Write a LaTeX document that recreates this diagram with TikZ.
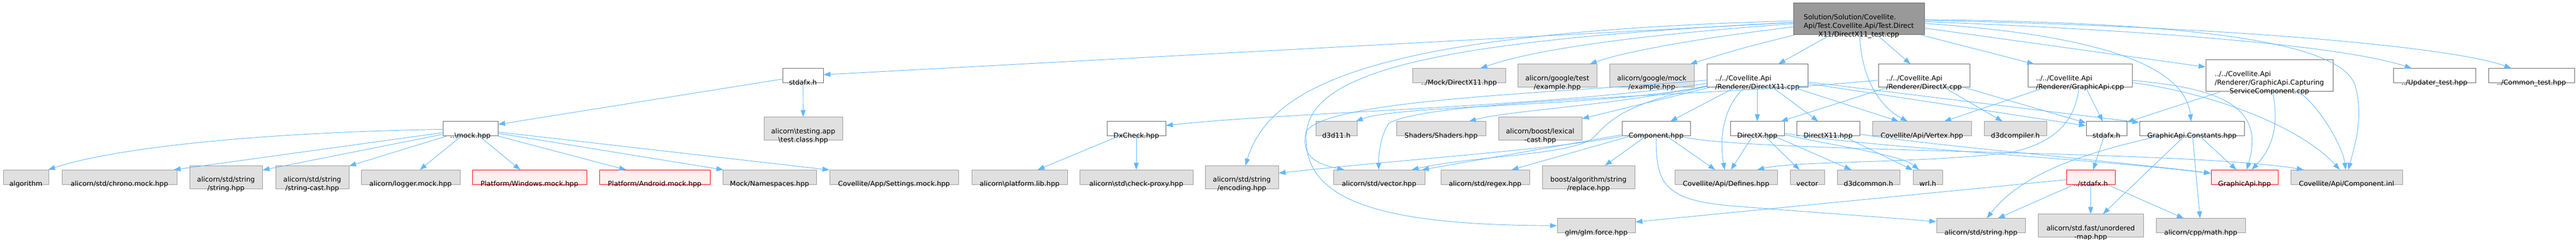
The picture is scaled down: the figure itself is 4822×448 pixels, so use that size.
\documentclass[tikz,border=0pt]{standalone}
\usepackage{fontspec}
\setmainfont{DejaVu Sans}
\usetikzlibrary{arrows.meta}

% label lowered onto the lower edge of its box (one, two or three lines)
\newcommand{\lowa}[1]{\raisebox{-12.4pt}[0pt][0pt]{#1}}
\newcommand{\lowb}[2]{\raisebox{-18.4pt}[0pt][0pt]{\begin{tabular}[b]{@{}l@{}}#1\\\multicolumn{1}{@{}c@{}}{#2}\end{tabular}}}
\newcommand{\lowc}[3]{\raisebox{-24.4pt}[0pt][0pt]{\begin{tabular}[b]{@{}l@{}}#1\\#2\\\multicolumn{1}{@{}c@{}}{#3}\end{tabular}}}

\tikzset{
  extfile/.style={draw={rgb, 255:red, 153; green, 153; blue, 153 }, fill={rgb, 255:red, 224; green, 224; blue, 224 }, line width=0.75pt, inner sep=0pt, font=\fontsize{9.6}{12}\selectfont},
  docfile/.style={extfile, draw={rgb, 255:red, 102; green, 102; blue, 102 }, fill=white},
  missfile/.style={extfile, draw={rgb, 255:red, 255; green, 0; blue, 0 }, fill={rgb, 255:red, 255; green, 240; blue, 240 }},
  rootfile/.style={extfile, draw={rgb, 255:red, 102; green, 102; blue, 102 }, fill={rgb, 255:red, 153; green, 153; blue, 153 }},
  ln1/.style={minimum height=20.25pt},
  ln2/.style={minimum height=32.25pt},
  ln3/.style={minimum height=44.25pt},
  wd/.style={minimum width=#1*0.75pt},
  dep/.style={draw={rgb, 255:red, 99; green, 184; blue, 255 }, line width=0.7pt, -{Triangle[length=9.75pt,width=7pt]}}
}

\begin{document}
\begin{tikzpicture}[x=0.75pt,y=0.75pt,yscale=-1,xscale=1]
\useasboundingbox (0,0) rectangle (4822,448);

%Shape: Rectangle -- the test file
\node [rootfile, ln3, wd=245] (root) at (3479.5,35.5) {\lowc{Solution/Solution/Covellite.}{Api/Test.Covellite.Api/Test.Direct}{X11/DirectX11\_test.cpp}};

%Shape: Rectangle -- first row
\node [docfile, ln1, wd=76] (stdafxtop) at (1503,141.5) {\lowa{stdafx.h}};
\node [extfile, ln1, wd=174] (mockdx) at (2731,141.5) {\lowa{../Mock/DirectX11.hpp}};
\node [extfile, ln2, wd=148] (gtest) at (2915,141.5) {\lowb{alicorn/google/test}{/example.hpp}};
\node [extfile, ln2, wd=158] (gmock) at (3092,141.5) {\lowb{alicorn/google/mock}{/example.hpp}};
\node [docfile, ln2, wd=189] (dx11cpp) at (3289.5,141.5) {\lowb{../../Covellite.Api}{/Renderer/DirectX11.cpp}};
\node [docfile, ln2, wd=171] (dxcpp) at (3601.5,141.5) {\lowb{../../Covellite.Api}{/Renderer/DirectX.cpp}};
\node [docfile, ln2, wd=195] (gapicpp) at (3893.5,141.5) {\lowb{../../Covellite.Api}{/Renderer/GraphicApi.cpp}};
\node [docfile, ln3, wd=238] (capturecpp) at (4248,141.5) {\lowc{../../Covellite.Api}{/Renderer/GraphicApi.Capturing}{ServiceComponent.cpp}};
\node [docfile, ln1, wd=154] (updater) at (4557,141.5) {\lowa{../Updater\_test.hpp}};
\node [docfile, ln1, wd=161] (common) at (4738.5,141.5) {\lowa{../Common\_test.hpp}};

%Shape: Rectangle -- second row
\node [docfile, ln1, wd=103] (mockhpp) at (880.5,240.5) {\lowa{..\textbackslash{}mock.hpp}};
\node [extfile, ln2, wd=147] (testclass) at (1503.5,240.5) {\lowb{alicorn\textbackslash{}testing.app}{\textbackslash{}test.class.hpp}};
\node [docfile, ln1, wd=110] (dxcheck) at (2127,240.5) {\lowa{DxCheck.hpp}};
\node [extfile, ln1, wd=77] (d3d11) at (2501.5,240.5) {\lowa{d3d11.h}};
\node [extfile, ln1, wd=167] (shaders) at (2697.5,240.5) {\lowa{Shaders/Shaders.hpp}};
\node [extfile, ln2, wd=156] (lexical) at (2883,240.5) {\lowb{alicorn/boost/lexical}{-cast.hpp}};
\node [docfile, ln1, wd=128] (component) at (3100,240.5) {\lowa{Component.hpp}};
\node [docfile, ln1, wd=101] (dxhpp) at (3289.5,240.5) {\lowa{DirectX.hpp}};
\node [docfile, ln1, wd=118] (dx11hpp) at (3422,240.5) {\lowa{DirectX11.hpp}};
\node [extfile, ln1, wd=185] (vertex) at (3597.5,240.5) {\lowa{Covellite/Api/Vertex.hpp}};
\node [extfile, ln1, wd=117] (d3dcompiler) at (3772.5,240.5) {\lowa{d3dcompiler.h}};
\node [docfile, ln1, wd=76] (stdafxmid) at (3943,240.5) {\lowa{stdafx.h}};
\node [docfile, ln1, wd=196] (constants) at (4103,240.5) {\lowa{GraphicApi.Constants.hpp}};

%Shape: Rectangle -- third row
\node [extfile, ln1, wd=85] (algorithm) at (48.5,331) {\lowa{algorithm}};
\node [extfile, ln1, wd=215] (chronomock) at (223.5,331) {\lowa{alicorn/std/chrono.mock.hpp}};
\node [extfile, ln2, wd=136] (stringhpp) at (423,331) {\lowb{alicorn/std/string}{/string.hpp}};
\node [extfile, ln2, wd=137] (stringcast) at (584.5,331) {\lowb{alicorn/std/string}{/string-cast.hpp}};
\node [extfile, ln1, wd=185] (loggermock) at (768.5,331) {\lowa{alicorn/logger.mock.hpp}};
\node [missfile, ln1, wd=214] (windowsmock) at (991,331) {\lowa{Platform/Windows.mock.hpp}};
\node [missfile, ln1, wd=207] (androidmock) at (1225.5,331) {\lowa{Platform/Android.mock.hpp}};
\node [extfile, ln1, wd=175] (namespaces) at (1440.5,331) {\lowa{Mock/Namespaces.hpp}};
\node [extfile, ln1, wd=241] (settingsmock) at (1673.5,331) {\lowa{Covellite/App/Settings.mock.hpp}};
\node [extfile, ln1, wd=179] (platformlib) at (1908.5,331) {\lowa{alicorn\textbackslash{}platform.lib.hpp}};
\node [extfile, ln1, wd=212] (checkproxy) at (2127,331) {\lowa{alicorn\textbackslash{}std\textbackslash{}check-proxy.hpp}};
\node [extfile, ln2, wd=137] (encoding) at (2324.5,331) {\lowb{alicorn/std/string}{/encoding.hpp}};
\node [extfile, ln1, wd=171] (vectorhpp) at (2581.5,331) {\lowa{alicorn/std/vector.hpp}};
\node [extfile, ln1, wd=166] (regex) at (2780,331) {\lowa{alicorn/std/regex.hpp}};
\node [extfile, ln2, wd=173] (replace) at (2973.5,331) {\lowb{boost/algorithm/string}{/replace.hpp}};
\node [extfile, ln1, wd=192] (defines) at (3231,331) {\lowa{Covellite/Api/Defines.hpp}};
\node [extfile, ln1, wd=64] (stdvector) at (3383,331) {\lowa{vector}};
\node [extfile, ln1, wd=117] (d3dcommon) at (3497.5,331) {\lowa{d3dcommon.h}};
\node [extfile, ln1, wd=55] (wrl) at (3608.5,331) {\lowa{wrl.h}};
\node [missfile, ln1, wd=91] (parentstdafx) at (3913.5,331) {\lowa{../stdafx.h}};
\node [missfile, ln1, wd=125] (gapihpp) at (4201.5,331) {\lowa{GraphicApi.hpp}};
\node [extfile, ln1, wd=209] (componentinl) at (4392.5,331) {\lowa{Covellite/Api/Component.inl}};

%Shape: Rectangle -- fourth row
\node [extfile, ln1, wd=146] (glmforce) at (2988,421.5) {\lowa{glm/glm.force.hpp}};
\node [extfile, ln1, wd=166] (stdstring) at (3708,421.5) {\lowa{alicorn/std/string.hpp}};
\node [extfile, ln2, wd=197] (unorderedmap) at (3913.5,421.5) {\lowb{alicorn/std.fast/unordered}{-map.hpp}};
\node [extfile, ln1, wd=167] (mathhpp) at (4119.5,421.5) {\lowa{alicorn/cpp/math.hpp}};

%Straight Lines -- ..\mock.hpp
\draw [dep] (mockhpp) .. controls (450,248) and (200,280) .. (algorithm);
\draw [dep] (mockhpp) -- (chronomock);
\draw [dep] (mockhpp) -- (stringhpp);
\draw [dep] (mockhpp) -- (stringcast);
\draw [dep] (mockhpp) -- (loggermock);
\draw [dep] (mockhpp) -- (windowsmock);
\draw [dep] (mockhpp) -- (androidmock);
\draw [dep] (mockhpp) -- (namespaces);
\draw [dep] (mockhpp) -- (settingsmock);
%Straight Lines -- stdafx.h and DxCheck.hpp
\draw [dep] (stdafxtop) -- (mockhpp);
\draw [dep] (stdafxtop) -- (testclass);
\draw [dep] (dxcheck) -- (platformlib);
\draw [dep] (dxcheck) -- (checkproxy);

%Curve Lines -- the test file
\draw [dep] (root) -- (stdafxtop);
\draw [dep] (root) .. controls (3000,70) and (2850,100) .. (mockdx);
\draw [dep] (root) .. controls (3150,75) and (3030,100) .. (gtest);
\draw [dep] (root) .. controls (3260,90) .. (gmock);
\draw [dep] (root) -- (dx11cpp);
\draw [dep] (root) -- (dxcpp);
\draw [dep] (root) -- (gapicpp);
\draw [dep] (root) .. controls (3485,150) and (3520,200) .. (vertex);
\draw [dep] (root) .. controls (2600,60) and (2380,150) .. (encoding);
\draw [dep] (root) .. controls (2700,75) and (2440,130) .. (2445,260) .. controls (2445,380) and (2600,420) .. (glmforce);
\draw [dep] (root) -- (capturecpp);
\draw [dep] (root) .. controls (3920,65) and (4090,120) .. (constants);
\draw [dep] (root) .. controls (4150,42) and (4395,85) .. (4410,165) .. controls (4425,225) and (4405,280) .. (componentinl);
\draw [dep] (root) .. controls (4100,60) and (4400,90) .. (updater);
\draw [dep] (root) .. controls (4200,50) and (4600,90) .. (common);

%Curve Lines -- DirectX11.cpp
\draw [dep] (dx11cpp) -- (dxhpp);
\draw [dep] (dx11cpp) -- (dx11hpp);
\draw [dep] (dx11cpp) -- (vertex);
\draw [dep] (dx11cpp) .. controls (3225,200) and (3218,260) .. (defines);
\draw [dep] (dx11cpp) -- (stdafxmid);
\draw [dep] (dx11cpp) -- (constants);
\draw [dep] (dx11cpp) -- (component);
\draw [dep] (dx11cpp) .. controls (3000,200) and (2620,195) .. (d3d11);
\draw [dep] (dx11cpp) .. controls (3000,200) and (2830,205) .. (shaders);
\draw [dep] (dx11cpp) -- (lexical);
\draw [dep] (dx11cpp) .. controls (2900,200) and (2400,210) .. (dxcheck);
\draw [dep] (dx11cpp) .. controls (2900,175) and (2490,185) .. (2445,245) .. controls (2435,290) and (2460,305) .. (vectorhpp);
\draw [dep] (dx11cpp) .. controls (3060,190) and (3020,215) .. (2985,255) .. controls (2950,290) and (2760,290) .. (vectorhpp);

%Curve Lines -- DirectX.cpp
\draw [dep] (dxcpp) -- (dxhpp);
\draw [dep] (dxcpp) -- (d3dcompiler);
\draw [dep] (dxcpp) -- (stdafxmid);
\draw [dep] (dxcpp) .. controls (3200,180) and (2680,185) .. (2600,230) .. controls (2585,250) and (2580,290) .. (vectorhpp);

%Curve Lines -- GraphicApi.cpp
\draw [dep] (gapicpp) -- (vertex);
\draw [dep] (gapicpp) -- (stdafxmid);
\draw [dep] (gapicpp) .. controls (3885,230) and (3840,270) .. (3760,285) .. controls (3600,305) and (3360,300) .. (defines);
\draw [dep] (gapicpp) .. controls (4160,165) and (4240,200) .. (gapihpp);
\draw [dep] (gapicpp) .. controls (4150,175) and (4310,240) .. (componentinl);

%Curve Lines -- GraphicApi.CapturingServiceComponent.cpp
\draw [dep] (capturecpp) -- (stdafxmid);
\draw [dep] (capturecpp) .. controls (4268,240) and (4250,280) .. (gapihpp);
\draw [dep] (capturecpp) .. controls (4335,190) and (4385,270) .. (componentinl);

%Straight Lines -- GraphicApi.Constants.hpp and the stdafx.h files
\draw [dep] (constants) .. controls (3880,290) and (3780,330) .. (stdstring);
\draw [dep] (constants) -- (unorderedmap);
\draw [dep] (constants) -- (mathhpp);
\draw [dep] (constants) -- (gapihpp);
\draw [dep] (stdafxmid) -- (parentstdafx);
\draw [dep] (parentstdafx) -- (stdstring);
\draw [dep] (parentstdafx) -- (unorderedmap);
\draw [dep] (parentstdafx) -- (mathhpp);
\draw [dep] (parentstdafx) -- (glmforce);

%Curve Lines -- DirectX.hpp and DirectX11.hpp
\draw [dep] (dxhpp) -- (defines);
\draw [dep] (dxhpp) -- (stdvector);
\draw [dep] (dxhpp) -- (d3dcommon);
\draw [dep] (dxhpp) .. controls (3450,275) and (3560,290) .. (wrl);
\draw [dep] (dxhpp) .. controls (3500,275) and (3900,295) .. (gapihpp);
\draw [dep] (dx11hpp) -- (wrl);
\draw [dep] (dx11hpp) .. controls (3600,270) and (3950,300) .. (gapihpp);

%Curve Lines -- Component.hpp
\draw [dep] (component.south west) .. controls (2900,280) and (2600,300) .. (encoding);
\draw [dep] (component) -- (vectorhpp);
\draw [dep] (component) -- (regex);
\draw [dep] (component) -- (replace);
\draw [dep] (component) -- (defines);
\draw [dep] (component) .. controls (3100,340) and (3110,375) .. (3250,385) .. controls (3400,397) and (3560,408) .. (stdstring);
\draw [dep] (component) .. controls (3250,285) and (4100,280) .. (componentinl);

\end{tikzpicture}
\end{document}
